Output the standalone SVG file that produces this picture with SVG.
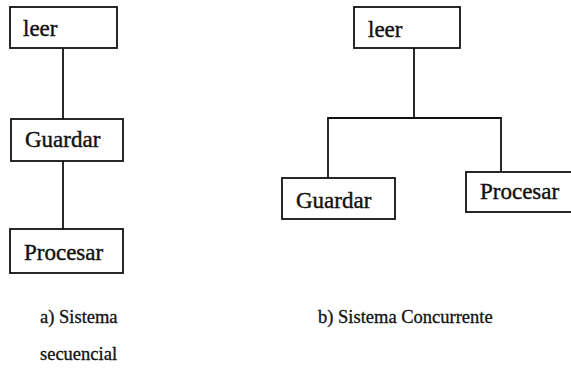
<svg xmlns="http://www.w3.org/2000/svg" width="571" height="380" viewBox="0 0 571 380">
  <style>
    .box { fill: #ffffff; stroke: #111111; stroke-width: 1.8; }
    .lbl { font-family: 'Liberation Serif', 'DejaVu Serif', serif; font-size: 23px; fill: #111111; stroke: #111111; stroke-width: 0.4; }
    .cap { font-family: 'Liberation Serif', 'DejaVu Serif', serif; font-size: 18.5px; fill: #111111; stroke: #111111; stroke-width: 0.3; }
    .wire { fill: none; stroke: #111111; stroke-width: 1.8; }
  </style>
  <rect width="571" height="380" fill="#ffffff"/>

  <!-- connectors -->
  <g id="connectors">
    <line class="wire" x1="63" y1="48" x2="63" y2="119"/>
    <line class="wire" x1="63" y1="161" x2="63" y2="229"/>
    <line class="wire" x1="414" y1="48" x2="414" y2="118"/>
    <polyline class="wire" points="328,178 328,118 501,118 501,172"/>
  </g>

  <!-- a) sequential system -->
  <g id="seq-leer">
    <rect class="box" x="10" y="7" width="107" height="41"/>
    <text class="lbl" x="23" y="36">leer</text>
  </g>
  <g id="seq-guardar">
    <rect class="box" x="11" y="119" width="112" height="42"/>
    <text class="lbl" x="25" y="147">Guardar</text>
  </g>
  <g id="seq-procesar">
    <rect class="box" x="10" y="229" width="113" height="44"/>
    <text class="lbl" x="24" y="260">Procesar</text>
  </g>

  <!-- b) concurrent system -->
  <g id="con-leer">
    <rect class="box" x="354" y="7" width="106" height="41"/>
    <text class="lbl" x="368" y="37">leer</text>
  </g>
  <g id="con-guardar">
    <rect class="box" x="282" y="178" width="113" height="41"/>
    <text class="lbl" x="296" y="208">Guardar</text>
  </g>
  <g id="con-procesar">
    <rect class="box" x="466" y="172" width="112" height="40"/>
    <text class="lbl" x="480" y="199">Procesar</text>
  </g>

  <!-- captions -->
  <g id="captions">
    <text class="cap" x="40" y="323">a) Sistema</text>
    <text class="cap" x="40" y="360">secuencial</text>
    <text class="cap" x="318" y="323">b) Sistema Concurrente</text>
  </g>
</svg>
